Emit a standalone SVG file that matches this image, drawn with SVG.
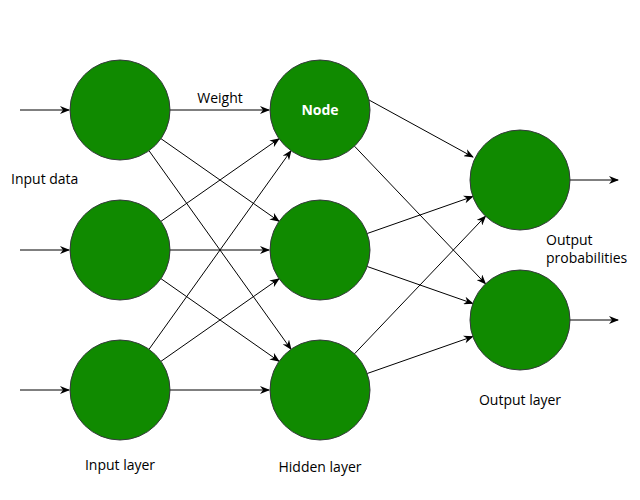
<svg xmlns="http://www.w3.org/2000/svg" width="640" height="500" viewBox="0 0 640 500">
<style>
.n{fill:#108a00;stroke:#36393d;stroke-width:1}
.e{fill:none;stroke:#000;stroke-width:1;marker-end:url(#a)}
.t{font-family:"Open Sans","Noto Sans",sans-serif;font-size:14px;fill:#000}
.m{text-anchor:middle}
.w{font-family:"Open Sans","Noto Sans",sans-serif;font-size:14px;font-weight:bold;fill:#fff;text-anchor:middle}
</style>
<defs>
<marker id="a" viewBox="0 0 10 8" refX="9" refY="4" markerWidth="10" markerHeight="8" markerUnits="userSpaceOnUse" orient="auto">
<path d="M0,0 L10,4 L0,8 L3,4 Z" fill="#000"/>
</marker>
</defs>
<rect width="640" height="500" fill="#fff"/>
<g id="connectors">
<line class="e" x1="20" y1="110" x2="69" y2="110"/>
<line class="e" x1="20" y1="250" x2="69" y2="250"/>
<line class="e" x1="20" y1="390" x2="69" y2="390"/>
<line class="e" x1="170" y1="110" x2="269" y2="110"/>
<line class="e" x1="170" y1="250" x2="269" y2="250"/>
<line class="e" x1="170" y1="390" x2="269" y2="390"/>
<line class="e" x1="161" y1="138.7" x2="279" y2="221.3"/>
<line class="e" x1="149" y1="150.7" x2="291" y2="349.3"/>
<line class="e" x1="161" y1="221.3" x2="279" y2="138.7"/>
<line class="e" x1="161" y1="278.7" x2="279" y2="361.3"/>
<line class="e" x1="149" y1="349.3" x2="291" y2="150.7"/>
<line class="e" x1="161" y1="361.3" x2="279" y2="278.7"/>
<line class="e" x1="369" y1="100" x2="473" y2="157"/>
<line class="e" x1="354.5" y1="146.2" x2="485.5" y2="283.8"/>
<line class="e" x1="367.2" y1="233.5" x2="472.8" y2="196.5"/>
<line class="e" x1="367.2" y1="266.5" x2="472.8" y2="303.5"/>
<line class="e" x1="354.5" y1="353.8" x2="485.5" y2="216.2"/>
<line class="e" x1="367.2" y1="373.5" x2="472.8" y2="336.5"/>
<line class="e" x1="570" y1="180" x2="618" y2="180"/>
<line class="e" x1="570" y1="320" x2="618" y2="320"/>
</g>
<g id="in1"><circle class="n" cx="120" cy="110" r="50"/></g>
<g id="in2"><circle class="n" cx="120" cy="250" r="50"/></g>
<g id="in3"><circle class="n" cx="120" cy="390" r="50"/></g>
<g id="hid1"><circle class="n" cx="320" cy="110" r="50"/><text class="w" x="320" y="115">Node</text></g>
<g id="hid2"><circle class="n" cx="320" cy="250" r="50"/></g>
<g id="hid3"><circle class="n" cx="320" cy="390" r="50"/></g>
<g id="out1"><circle class="n" cx="520" cy="180" r="50"/></g>
<g id="out2"><circle class="n" cx="520" cy="320" r="50"/></g>
<g id="labels">
<text class="t m" x="220" y="103">Weight</text>
<text class="t" x="11" y="184">Input data</text>
<text class="t" x="546" y="245">Output</text>
<text class="t" x="546" y="263">probabilities</text>
<text class="t m" x="520" y="405">Output layer</text>
<text class="t m" x="120" y="470">Input layer</text>
<text class="t m" x="320" y="472">Hidden layer</text>
</g>
</svg>
